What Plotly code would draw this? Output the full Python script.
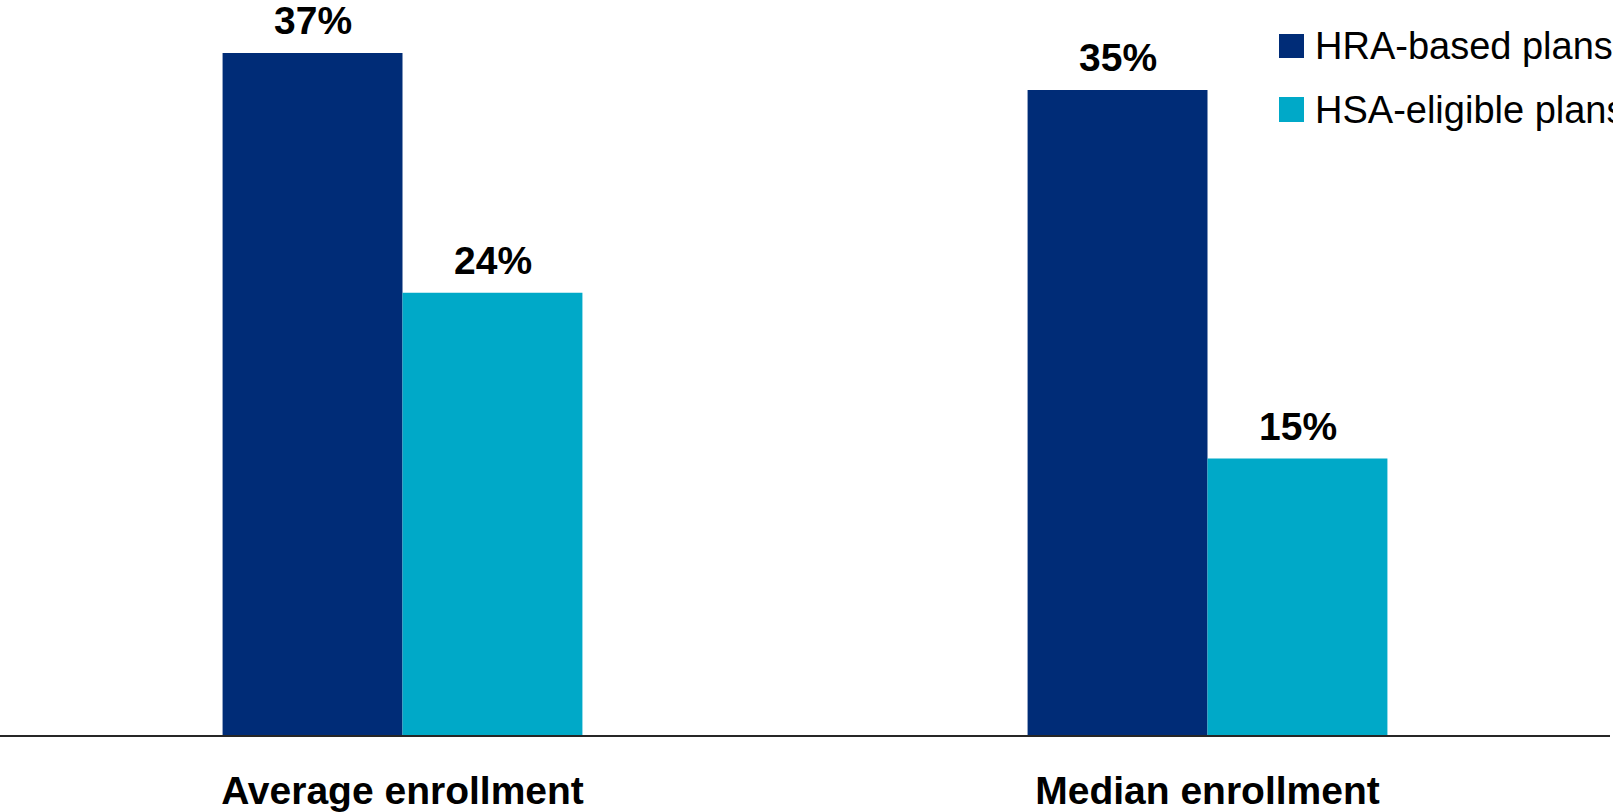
import plotly.graph_objects as go

categories = ["Average enrollment", "Median enrollment"]
series_names = ["HRA-based plans", "HSA-eligible plans"]
hra_values = [37, 35]
hsa_values = [24, 15]
colors = ["#002C77", "#00A9C8"]

W, H = 1613, 812
ML, MR, MT, MB = 0, 3, 0, 77
PW, PH = W - ML - MR, H - MT - MB

fig = go.Figure()
for name, vals, col in zip(series_names, [hra_values, hsa_values], colors):
    fig.add_trace(go.Bar(
        x=categories, y=vals, name=name, marker=dict(color=col, line=dict(width=0)),
        showlegend=False, hoverinfo="skip",
    ))

# value labels above bars
annotations = []
for vals, shift in zip([hra_values, hsa_values], [-90, 90]):
    for c, v in zip(categories, vals):
        annotations.append(dict(
            x=c, y=v, xref="x", yref="y", text=f"<b>{v}%</b>", showarrow=False,
            xshift=shift, yshift=9, yanchor="bottom", xanchor="center",
            font=dict(family="Liberation Sans, Arial", size=39, color="#000000"),
        ))

# manual legend (larger swatches than native legend allows)
shapes = []
legend_rows = [(34, 58), (97, 122)]
for name, col, (top, bot) in zip(series_names, colors, legend_rows):
    shapes.append(dict(
        type="rect", xref="paper", yref="paper",
        x0=1279 / PW, x1=1304 / PW, y0=(PH - bot) / PH, y1=(PH - top) / PH,
        fillcolor=col, line=dict(width=0),
    ))
    annotations.append(dict(
        x=1313 / PW, y=(PH - (top + bot) / 2) / PH, xref="paper", yref="paper",
        text=name, showarrow=False, xanchor="left", yanchor="middle",
        font=dict(family="Liberation Sans, Arial", size=38, color="#000000"),
    ))

fig.update_layout(
    width=W, height=H,
    margin=dict(l=ML, r=MR, t=MT, b=MB, pad=0, autoexpand=False),
    paper_bgcolor="white", plot_bgcolor="white",
    barmode="group", bargap=0.553, bargroupgap=0,
    showlegend=False,
    annotations=annotations, shapes=shapes,
    xaxis=dict(
        showline=True, linecolor="#262626", linewidth=2, automargin=False,
        showgrid=False, zeroline=False, ticks="", ticklabelstandoff=20,
        tickfont=dict(family="Liberation Sans, Arial", size=39, color="#000000"),
        tickvals=categories, ticktext=[f"<b>{c}</b>" for c in categories],
    ),
    yaxis=dict(
        range=[0, 39.876], showticklabels=False, showgrid=False, automargin=False,
        zeroline=False, showline=False, ticks="",
    ),
)

fig.write_html("out.html")
